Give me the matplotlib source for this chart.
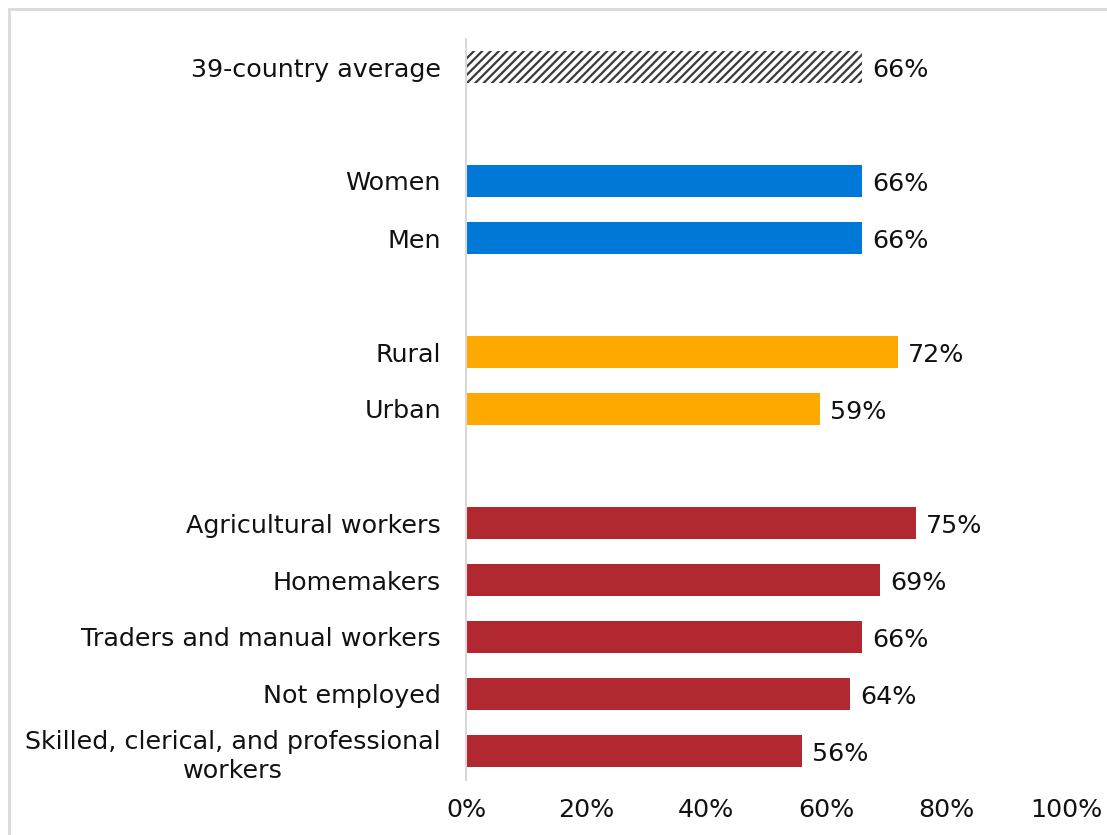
import matplotlib
matplotlib.use('Agg')
import matplotlib.pyplot as plt
from matplotlib.patches import Rectangle

# Share of respondents, by group (percent)
categories = [
    '39-country average',
    'Women', 'Men',
    'Rural', 'Urban',
    'Agricultural workers', 'Homemakers', 'Traders and manual workers',
    'Not employed', 'Skilled, clerical, and professional\nworkers',
]
values = [66, 66, 66, 72, 59, 75, 69, 66, 64, 56]
groups = ['avg', 'sex', 'sex', 'area', 'area', 'job', 'job', 'job', 'job', 'job']
slots = [0, 2, 3, 5, 6, 8, 9, 10, 11, 12]
xticks = [0, 20, 40, 60, 80, 100]

colors = {'sex': '#0078D7', 'area': '#FFA800', 'job': '#B22830'}

plt.rcParams['font.family'] = ['DejaVu Sans']
plt.rcParams['hatch.linewidth'] = 1.6
plt.rcParams['hatch.color'] = '#3A3A3A'

W, H = 1107, 835
fig = plt.figure(figsize=(W / 100, H / 100), dpi=100)
ax = fig.add_axes([466 / W, 1 - 779.5 / H, 600 / W, (779.5 - 38.5) / H])

# outer chart frame
fig.patches.append(Rectangle((9 / W, -0.05), 1.2, 1 - 9.5 / H + 0.05,
                             transform=fig.transFigure, fill=False,
                             edgecolor='#D9D9D9', linewidth=2, zorder=0))

fs = 18.3
for cat, val, grp, pos in zip(categories, values, groups, slots):
    if grp == 'avg':
        ax.barh(pos, val, height=0.56, color='white', edgecolor='#3A3A3A',
                hatch='////', linewidth=0)
    else:
        ax.barh(pos, val, height=0.56, color=colors[grp], linewidth=0)
    ax.text(val + 1.7, pos + 0.05, f'{val}%', va='center', ha='left',
            fontsize=fs, color='#111111')

ax.set_xlim(0, 100)
ax.set_ylim(12.5, -0.5)
ax.set_yticks(slots)
ax.set_yticklabels(categories, fontsize=fs, color='#111111', linespacing=1.3,
                   multialignment='center')
ax.set_xticks(xticks)
ax.set_xticklabels([f'{t}%' for t in xticks], fontsize=fs, color='#111111')
ax.tick_params(axis='both', length=0)
ax.tick_params(axis='y', pad=18)
ax.tick_params(axis='x', pad=13)

for side in ['top', 'right', 'bottom']:
    ax.spines[side].set_visible(False)
ax.spines['left'].set_color('#D9D9D9')
ax.spines['left'].set_linewidth(1.5)

fig.savefig('out.png', dpi=100)
